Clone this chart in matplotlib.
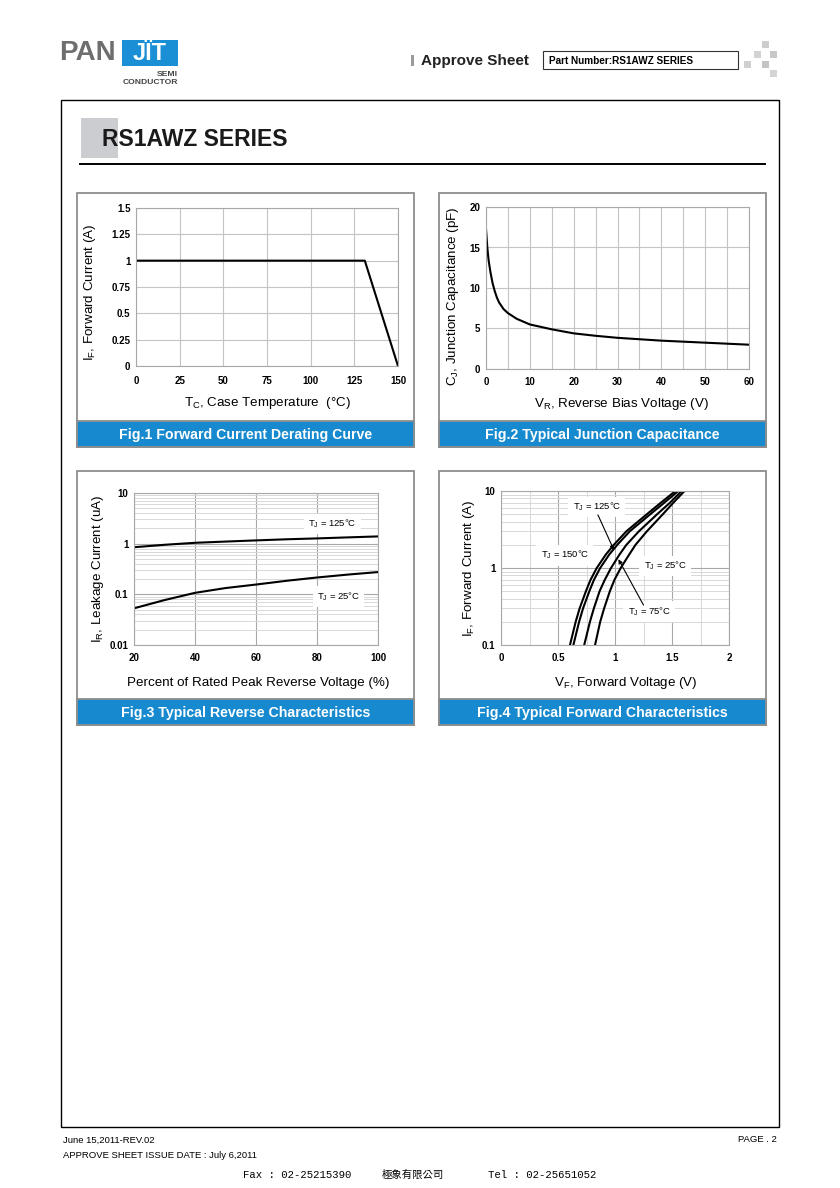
import numpy as np
import matplotlib
matplotlib.use("Agg")
import matplotlib.pyplot as plt
from matplotlib.patches import Rectangle
from matplotlib.ticker import FixedLocator, LogLocator, NullFormatter

plt.rcParams["font.family"] = ["Liberation Sans", "DejaVu Sans"]
plt.rcParams["mathtext.default"] = "regular"

W, H = 840, 1188

BLUE = "#1689CF"
BORDER = "#8E8E8E"
GRID = "#C4C4C4"
GRID_DARK = "#A8A8A8"
GRID_MINOR = "#D8D8D8"

# Fig.1 forward current derating
TC = [0, 131, 150]
IF_DERATE = [1.0, 1.0, 0.0]

# Fig.2 junction capacitance
VR = [0, 0.3, 0.6, 1, 1.5, 2, 2.5, 3, 4, 5, 7, 10, 15, 20, 25, 30, 40, 50, 60]
CJ = [17.3, 15.0, 13.4, 12.0, 10.6, 9.6, 8.8, 8.2, 7.4, 6.9, 6.2, 5.5, 4.9, 4.4, 4.1, 3.85, 3.5, 3.25, 3.0]

# Fig.3 reverse characteristics
PCT = [20, 30, 40, 50, 60, 70, 80, 90, 100]
IR_125 = [0.85, 0.95, 1.04, 1.10, 1.16, 1.22, 1.27, 1.33, 1.39]
IR_25 = [0.053, 0.077, 0.107, 0.133, 0.156, 0.185, 0.215, 0.245, 0.275]

# Fig.4 forward characteristics
IF_PTS = [0.1, 0.2, 0.3, 0.5, 0.7, 1, 1.5, 2, 3, 5, 7, 10]
VF_150 = [0.605, 0.655, 0.69, 0.745, 0.785, 0.84, 0.92, 0.99, 1.10, 1.28, 1.40, 1.53]
VF_125 = [0.635, 0.685, 0.72, 0.775, 0.815, 0.87, 0.95, 1.02, 1.13, 1.31, 1.43, 1.555]
VF_75 = [0.73, 0.78, 0.815, 0.865, 0.91, 0.965, 1.04, 1.10, 1.21, 1.37, 1.48, 1.585]
VF_25 = [0.825, 0.87, 0.905, 0.955, 0.995, 1.05, 1.125, 1.18, 1.28, 1.42, 1.51, 1.61]


def px_box(x0, y0, x1, y1):
    return [x0 / W, 1 - y1 / H, (x1 - x0) / W, (y1 - y0) / H]


def panel(page, x0, y0, x1, y1, caption):
    page.add_patch(Rectangle((x0, y0), x1 - x0, y1 - y0, fill=False, ec=BORDER, lw=1.3))
    page.add_patch(Rectangle((x0, y1 - 26), x1 - x0, 26, fc=BLUE, ec=BORDER, lw=1.3))
    page.text((x0 + x1) / 2, y1 - 12.5, caption, color="white", fontsize=10.2,
              fontweight="bold", ha="center", va="center")


def style(ax, xpad, ypad):
    for s in ax.spines.values():
        s.set_color(GRID_DARK)
        s.set_linewidth(0.8)
    ax.tick_params(which="both", length=0)
    ax.tick_params(axis="x", pad=xpad)
    ax.tick_params(axis="y", pad=ypad)
    ax.set_axisbelow(True)


def ticks(ax, axis, vals, labels):
    kw = dict(fontsize=7, fontweight="bold")
    if axis == "x":
        ax.set_xticks(vals, labels, **kw)
    else:
        ax.set_yticks(vals, labels, **kw)


fig = plt.figure(figsize=(W / 100, H / 100), dpi=100)
page = fig.add_axes([0, 0, 1, 1])
page.set_xlim(0, W)
page.set_ylim(H, 0)
page.axis("off")

# ── header ──
page.text(59, 53, "PAN", fontsize=20, fontweight="bold", color="#6E6E6E", va="center", ha="left")
page.add_patch(Rectangle((122, 40), 56, 26, fc="#1A8FD6", ec="none"))
page.text(150, 54, "JÏT", fontsize=17, fontweight="bold", color="white", va="center", ha="center")
page.text(178, 75, "SEMI", fontsize=6.1, fontweight="bold", color="#444444", ha="right", va="center")
page.text(178, 82.5, "CONDUCTOR", fontsize=6.1, fontweight="bold", color="#444444", ha="right", va="center")

page.add_patch(Rectangle((411, 55), 3, 11, fc="#9A9A9A", ec="none"))
page.text(421, 60.5, "Approve Sheet", fontsize=11, fontweight="bold", color="#222222", va="center")
page.add_patch(Rectangle((543, 51), 195, 18, fill=False, ec="#333333", lw=0.8))
page.text(549, 60.5, "Part Number:RS1AWZ SERIES", fontsize=7.2, fontweight="bold", va="center")
for (cx, cy, c) in [(762, 41, "#CDCDCD"), (754, 51, "#D2D2D2"), (770, 51, "#C8C8C8"),
                    (744, 61, "#D0D0D0"), (762, 61, "#C4C4C4"), (770, 70, "#D4D4D4")]:
    page.add_patch(Rectangle((cx, cy), 7, 7, fc=c, ec="none"))

# ── page frame and title ──
page.add_patch(Rectangle((61, 100), 718, 1027, fill=False, ec="black", lw=1.0))
page.add_patch(Rectangle((81, 118), 37, 40, fc="#CBCDD0", ec="none"))
page.text(102, 139, "RS1AWZ SERIES", fontsize=16.5, fontweight="bold", color="#1A1A1A", va="center")
page.plot([80, 765], [164, 164], color="black", lw=1.4)

# ── panels ──
panel(page, 77, 193, 414, 447, "Fig.1 Forward Current Derating Curve")
panel(page, 439, 193, 766, 447, "Fig.2 Typical Junction Capacitance")
panel(page, 77, 471, 414, 725, "Fig.3 Typical Reverse Characteristics")
panel(page, 439, 471, 766, 725, "Fig.4 Typical Forward Characteristics")

LABEL_FS = 9.6

# Fig.1
ax1 = fig.add_axes(px_box(136, 208, 398, 366))
ax1.plot(TC, IF_DERATE, color="black", lw=1.5)
ax1.set_xlim(0, 150)
ax1.set_ylim(0, 1.5)
ticks(ax1, "x", [0, 25, 50, 75, 100, 125, 150], ["0", "25", "50", "75", "100", "125", "150"])
ticks(ax1, "y", [0, 0.25, 0.5, 0.75, 1, 1.25, 1.5], ["0", "0.25", "0.5", "0.75", "1", "1.25", "1.5"])
ax1.grid(True, color=GRID, lw=0.8)
style(ax1, 7, 4)
ax1.set_xlabel("T$_{C}$, Case Temperature  (°C)", fontsize=LABEL_FS)
ax1.set_ylabel("I$_{F}$, Forward Current (A)", fontsize=LABEL_FS)
ax1.xaxis.set_label_coords(0.5, -0.185)
ax1.yaxis.set_label_coords(-0.145, 0.47)

# Fig.2
ax2 = fig.add_axes(px_box(486, 207, 749, 369))
ax2.plot(VR, CJ, color="black", lw=1.5)
ax2.set_xlim(0, 60)
ax2.set_ylim(0, 20)
ticks(ax2, "x", [0, 10, 20, 30, 40, 50, 60], ["0", "10", "20", "30", "40", "50", "60"])
ticks(ax2, "y", [0, 5, 10, 15, 20], ["0", "5", "10", "15", "20"])
ax2.xaxis.set_minor_locator(FixedLocator(np.arange(5, 60, 10)))
ax2.grid(True, which="both", color=GRID, lw=0.8)
style(ax2, 6, 4)
ax2.set_xlabel("V$_{R}$, Reverse Bias Voltage (V)", fontsize=LABEL_FS)
ax2.set_ylabel("C$_{J}$, Junction Capacitance (pF)", fontsize=LABEL_FS)
ax2.xaxis.set_label_coords(0.517, -0.167)
ax2.yaxis.set_label_coords(-0.095, 0.45)

# Fig.3
ax3 = fig.add_axes(px_box(134, 493, 378, 645))
ax3.plot(PCT, IR_125, color="black", lw=1.5)
ax3.plot(PCT, IR_25, color="black", lw=1.5)
ax3.set_yscale("log")
ax3.set_xlim(20, 100)
ax3.set_ylim(0.01, 10)
ticks(ax3, "x", [20, 40, 60, 80, 100], ["20", "40", "60", "80", "100"])
ticks(ax3, "y", [0.01, 0.1, 1, 10], ["0.01", "0.1", "1", "10"])
ax3.yaxis.set_minor_locator(LogLocator(base=10, subs=np.arange(2, 10)))
ax3.yaxis.set_minor_formatter(NullFormatter())
ax3.grid(True, which="major", color=GRID_DARK, lw=0.8)
ax3.grid(True, which="minor", axis="y", color=GRID_MINOR, lw=0.7)
style(ax3, 6, 4)
tj_box = dict(fc="white", ec="none", pad=3)
ax3.text(85, 2.44, "T$_{J}$ = 125°C", fontsize=6.8, ha="center", va="center", bbox=tj_box)
ax3.text(87, 0.091, "T$_{J}$ = 25°C", fontsize=6.8, ha="center", va="center", bbox=tj_box)
ax3.set_xlabel("Percent of Rated Peak Reverse Voltage (%)", fontsize=LABEL_FS)
ax3.set_ylabel("I$_{R}$, Leakage Current (uA)", fontsize=LABEL_FS)
ax3.xaxis.set_label_coords(0.508, -0.21)
ax3.yaxis.set_label_coords(-0.115, 0.5)

# Fig.4
ax4 = fig.add_axes(px_box(501, 491, 729, 645))
for vf in (VF_150, VF_125, VF_75, VF_25):
    ax4.plot(vf, IF_PTS, color="black", lw=1.5)
ax4.set_yscale("log")
ax4.set_xlim(0, 2)
ax4.set_ylim(0.1, 10)
ticks(ax4, "x", [0, 0.5, 1, 1.5, 2], ["0", "0.5", "1", "1.5", "2"])
ticks(ax4, "y", [0.1, 1, 10], ["0.1", "1", "10"])
ax4.xaxis.set_minor_locator(FixedLocator([0.25, 0.75, 1.25, 1.75]))
ax4.yaxis.set_minor_locator(LogLocator(base=10, subs=np.arange(2, 10)))
ax4.yaxis.set_minor_formatter(NullFormatter())
ax4.grid(True, which="major", color=GRID_DARK, lw=0.8)
ax4.grid(True, which="minor", color=GRID_MINOR, lw=0.7)
style(ax4, 6, 4)
arrow = dict(arrowstyle="-|>", color="black", lw=0.8, mutation_scale=6, shrinkA=0, shrinkB=0)
ax4.text(0.84, 6.2, "T$_{J}$ = 125°C", fontsize=6.8, ha="center", va="center", bbox=tj_box)
ax4.annotate("", xy=(0.99, 1.72), xytext=(0.85, 4.9), arrowprops=arrow)
ax4.text(0.56, 1.47, "T$_{J}$ = 150°C", fontsize=6.8, ha="center", va="center", bbox=tj_box)
ax4.text(1.44, 1.06, "T$_{J}$ = 25°C", fontsize=6.8, ha="center", va="center", bbox=tj_box)
ax4.text(1.30, 0.27, "T$_{J}$ = 75°C", fontsize=6.8, ha="center", va="center", bbox=tj_box)
ax4.annotate("", xy=(1.03, 1.3), xytext=(1.25, 0.33), arrowprops=arrow)
ax4.set_xlabel("V$_{F}$, Forward Voltage (V)", fontsize=LABEL_FS)
ax4.set_ylabel("I$_{F}$, Forward Current (A)", fontsize=LABEL_FS)
ax4.xaxis.set_label_coords(0.545, -0.195)
ax4.yaxis.set_label_coords(-0.105, 0.5)

# ── footer ──
page.text(63, 1140, "June 15,2011-REV.02", fontsize=6.8, va="center")
page.text(63, 1156, "APPROVE SHEET ISSUE DATE : July 6,2011", fontsize=6.8, va="center")
page.text(777, 1140, "PAGE . 2", fontsize=6.8, va="center", ha="right")
page.text(243, 1175, "Fax : 02-25215390", fontsize=7.7, family=["Liberation Mono"], va="center")
page.text(382, 1175, "極象有限公司", fontsize=7.5, family=["Noto Sans CJK TC", "DejaVu Sans"], va="center")
page.text(488, 1175, "Tel : 02-25651052", fontsize=7.7, family=["Liberation Mono"], va="center")

fig.savefig("out.png", dpi=100)
